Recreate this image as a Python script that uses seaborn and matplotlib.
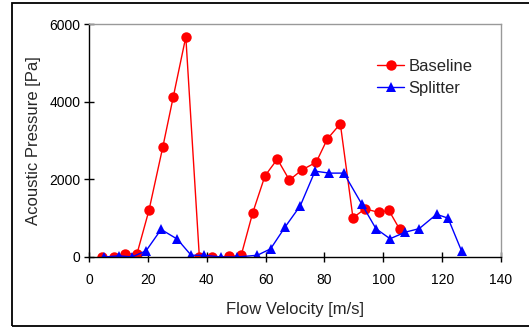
import matplotlib
matplotlib.use("Agg")
import matplotlib.pyplot as plt
import seaborn as sns
from matplotlib.patches import Rectangle

# valores
baseline_v = [4.3, 8.4, 12.3, 16.3, 20.4, 25.1, 28.6, 32.9, 37.5, 41.9, 47.7, 51.7,
              55.6, 59.8, 64.0, 68.1, 72.3, 77.2, 81.0, 85.4, 89.7, 93.8, 98.4, 101.9, 105.6]
baseline_p = [0, 0, 80, 80, 1210, 2840, 4110, 5670, 0, 0, 15, 40,
              1130, 2090, 2520, 1980, 2240, 2440, 3040, 3430, 1010, 1240, 1150, 1200, 710]

splitter_v = [5.2, 10.2, 14.6, 19.4, 24.5, 30.0, 34.7, 39.1, 44.9, 50.3, 57.2, 61.7,
              66.7, 71.8, 76.8, 81.7, 86.6, 92.7, 97.5, 102.3, 107.5, 112.2, 118.1, 122.0, 126.6]
splitter_p = [0, 30, 0, 160, 710, 460, 45, 45, 0, 0, 45, 210,
              780, 1320, 2210, 2160, 2160, 1360, 730, 470, 640, 730, 1100, 1000, 155]

sns.set_style("white")
plt.rcParams['font.family'] = ['Liberation Sans', 'DejaVu Sans']

fig = plt.figure(figsize=(5.29, 3.27), dpi=100)
ax = fig.add_axes([89 / 529, 70 / 327, 412 / 529, 233 / 327])

sns.lineplot(x=baseline_v, y=baseline_p, ax=ax, color='#ff0000', linewidth=1.0,
             marker='o', markersize=7.5, markeredgewidth=0, label='Baseline', sort=False)
sns.lineplot(x=splitter_v, y=splitter_p, ax=ax, color='#0000ff', linewidth=1.0,
             marker='^', markersize=6.5, markeredgewidth=0, label='Splitter', sort=False)

ax.set_xlim(0, 140)
ax.set_ylim(0, 6000)
ax.set_xticks(range(0, 141, 20))
ax.set_yticks([0, 2000, 4000, 6000])
ax.tick_params(axis='both', direction='inout', length=6.5, width=1.0, color='black',
               labelsize=10, labelcolor='#000000')
ax.tick_params(axis='x', pad=8)
ax.tick_params(axis='y', pad=3)
ax.tick_params(left=True, bottom=True)

for s in ['left', 'bottom']:
    ax.spines[s].set_color('black')
    ax.spines[s].set_linewidth(1.0)
for s in ['top', 'right']:
    ax.spines[s].set_color('#999999')
    ax.spines[s].set_linewidth(1.0)

ax.set_xlabel("Flow Velocity [m/s]", fontsize=12, labelpad=11)
ax.set_ylabel("Acoustic Pressure [Pa]", fontsize=12, labelpad=6)

ax.legend(loc='upper left', bbox_to_anchor=(0.70, 0.85), frameon=False, fontsize=12,
          handlelength=1.6, handletextpad=0.25, labelspacing=0.4, borderpad=0,
          borderaxespad=0)

# marco exterior de la figura
fig.patches.append(Rectangle((12 / 529, 0.8 / 327), 1.0, 323.5 / 327, transform=fig.transFigure,
                             fill=False, edgecolor='black', linewidth=1.3, clip_on=False))

fig.savefig('out.png', dpi=100)
plt.close()
